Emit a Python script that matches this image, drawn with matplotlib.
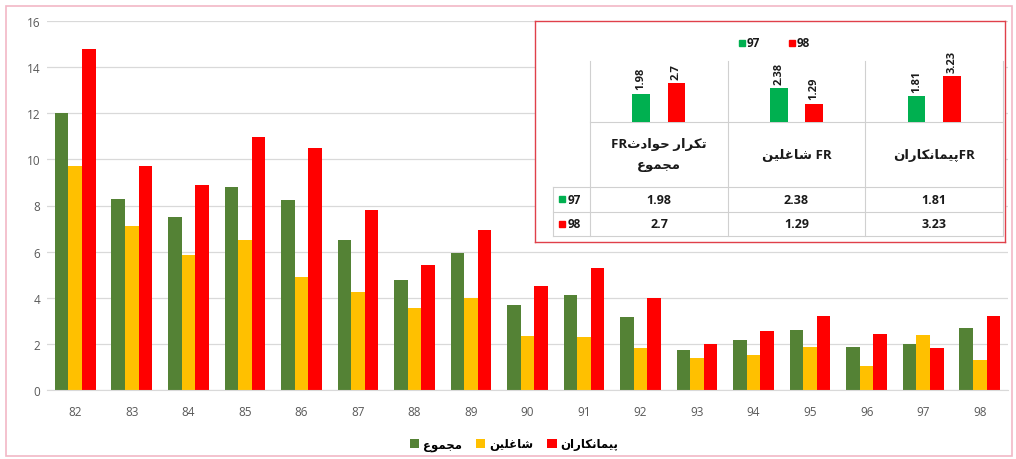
import numpy as np
import matplotlib
matplotlib.use('Agg')
import matplotlib.pyplot as plt
from matplotlib.patches import Rectangle

plt.rcParams['font.family'] = ['Open Sans', 'DejaVu Sans']

# data
years = ['82', '83', '84', '85', '86', '87', '88', '89', '90',
         '91', '92', '93', '94', '95', '96', '97', '98']
total = [12.0, 8.3, 7.5, 8.8, 8.25, 6.5, 4.75, 5.95, 3.7,
         4.1, 3.15, 1.72, 2.18, 2.61, 1.85, 1.98, 2.7]
staff = [9.7, 7.1, 5.85, 6.5, 4.9, 4.25, 3.55, 4.0, 2.32,
         2.3, 1.82, 1.39, 1.53, 1.86, 1.05, 2.38, 1.29]
contractors = [14.8, 9.7, 8.9, 10.95, 10.5, 7.8, 5.4, 6.95, 4.52,
               5.29, 3.99, 2.0, 2.56, 3.22, 2.41, 1.81, 3.23]
series_names = ['مجموع', 'شاغلین', 'پیمانکاران']

# inset: FR of years 97 and 98
ins_years = ['97', '98']
ins_groups = ['FR|تکرار حوادث|مجموع', 'شاغلین|FR', 'پیمانکاران|FR']
ins_97 = [1.98, 2.38, 1.81]
ins_98 = [2.7, 1.29, 3.23]

GREEN = '#548235'
YELLOW = '#FFC000'
RED = '#FF0000'
IN_GREEN = '#00B050'
GRID = '#D9D9D9'
TXT = '#595959'

# simple persian shaping (presentation forms, visual order)
FORMS = {
    'ا': ('\uFE8D', '\uFE8E', None, None),
    'ت': ('\uFE95', '\uFE96', '\uFE97', '\uFE98'),
    'ث': ('\uFE99', '\uFE9A', '\uFE9B', '\uFE9C'),
    'ج': ('\uFE9D', '\uFE9E', '\uFE9F', '\uFEA0'),
    'ح': ('\uFEA1', '\uFEA2', '\uFEA3', '\uFEA4'),
    'د': ('\uFEA9', '\uFEAA', None, None),
    'ر': ('\uFEAD', '\uFEAE', None, None),
    'ش': ('\uFEB5', '\uFEB6', '\uFEB7', '\uFEB8'),
    'ع': ('\uFEC9', '\uFECA', '\uFECB', '\uFECC'),
    'غ': ('\uFECD', '\uFECE', '\uFECF', '\uFED0'),
    'ل': ('\uFEDD', '\uFEDE', '\uFEDF', '\uFEE0'),
    'م': ('\uFEE1', '\uFEE2', '\uFEE3', '\uFEE4'),
    'ن': ('\uFEE5', '\uFEE6', '\uFEE7', '\uFEE8'),
    'و': ('\uFEED', '\uFEEE', None, None),
    'پ': ('\uFB56', '\uFB57', '\uFB58', '\uFB59'),
    'ک': ('\uFB8E', '\uFB8F', '\uFB90', '\uFB91'),
    'ی': ('\uFBFC', '\uFBFD', '\uFBFE', '\uFBFF'),
}


def fa(text):
    out = []
    n = len(text)
    for i, ch in enumerate(text):
        if ch not in FORMS:
            out.append(ch)
            continue
        prev = i > 0 and text[i - 1] in FORMS and FORMS[text[i - 1]][2] is not None
        nxt = i < n - 1 and text[i + 1] in FORMS and FORMS[ch][2] is not None
        iso, fin, ini, med = FORMS[ch]
        if prev and nxt:
            out.append(med)
        elif prev:
            out.append(fin)
        elif nxt:
            out.append(ini)
        else:
            out.append(iso)
    return ''.join(reversed(out))


def mixed(label):
    # pieces are given in visual order, '|' separated; persian parts get shaped
    parts = label.split('|')
    if parts[0] == 'FR':
        return ['FR' + fa(parts[1])] + [fa(p) for p in parts[2:]]
    return [fa(parts[0]) + (' ' if 'ش' in parts[0] else '') + parts[1]]


W, H = 1016, 460
fig = plt.figure(figsize=(W / 100, H / 100), dpi=100)


def box(x0, y0, x1, y1):
    # pixel box (from top-left) -> figure fraction rect
    return [x0 / W, 1 - y1 / H, (x1 - x0) / W, (y1 - y0) / H]


# outer pink frame
fig.add_artist(Rectangle((6 / W, 1 - 457 / H), 1006 / W, 450 / H, transform=fig.transFigure,
                         fill=False, edgecolor='#F2B8C6', lw=1.2))

ax = fig.add_axes(box(47, 22, 1008, 391))
x = np.arange(len(years))
bw = 0.24
ax.bar(x - bw, total, bw, color=GREEN, label=fa(series_names[0]), zorder=2)
ax.bar(x, staff, bw, color=YELLOW, label=fa(series_names[1]), zorder=2)
ax.bar(x + bw, contractors, bw, color=RED, label=fa(series_names[2]), zorder=2)
ax.set_xlim(-0.5, len(years) - 0.5)
ax.set_ylim(0, 16)
ax.set_yticks(range(0, 17, 2))
ax.set_xticks(x)
ax.set_xticklabels(years)
ax.tick_params(length=0, colors=TXT, labelsize=8.5)
ax.tick_params(axis='x', pad=11)
ax.tick_params(axis='y', pad=5)
ax.grid(axis='y', color=GRID, lw=0.9, zorder=0)
for s in ['top', 'right', 'left']:
    ax.spines[s].set_visible(False)
ax.spines['bottom'].set_color(GRID)

leg = ax.legend(loc='center', bbox_to_anchor=(514 / W, 1 - 445 / H), bbox_transform=fig.transFigure,
                ncol=3, frameon=False, handlelength=0.8, handleheight=0.8, handletextpad=0.3,
                columnspacing=1.2, prop={'size': 8.5, 'weight': 'bold'})

# inset panel in pixel coords
axb = fig.add_axes(box(535, 22, 1005, 243))
axb.set_zorder(5)
axb.set_xlim(535, 1005)
axb.set_ylim(243, 22)
axb.set_xticks([])
axb.set_yticks([])
for s in axb.spines.values():
    s.set_color('#E0404A')
    s.set_linewidth(1.0)

cols = [590, 728, 865, 1003]
rows = [123, 188, 213, 237]
lc = '#D0D0D0'
for cx in cols:
    axb.plot([cx, cx], [62, 237], color=lc, lw=0.8)
axb.plot([553, 553], [188, 237], color=lc, lw=0.8)
axb.plot([590, 1003], [123, 123], color=lc, lw=0.8)
for ry in rows[1:]:
    axb.plot([553, 1003], [ry, ry], color=lc, lw=0.8)

centers = [(cols[i] + cols[i + 1]) / 2 for i in range(3)]
for i, lab in enumerate(ins_groups):
    lines = mixed(lab)
    axb.text(centers[i], 155.5, '\n'.join(lines), ha='center', va='center', fontsize=9.5,
             fontweight='bold', linespacing=1.8, color='#1a1a1a')
    axb.text(centers[i], 200.5, f'{ins_97[i]}', ha='center', va='center', fontsize=9,
             fontweight='bold', color='#1a1a1a')
    axb.text(centers[i], 225, f'{ins_98[i]}', ha='center', va='center', fontsize=9,
             fontweight='bold', color='#1a1a1a')
for ry, yr, c in [(200.5, ins_years[0], IN_GREEN), (225, ins_years[1], RED)]:
    axb.add_patch(Rectangle((559, ry - 3), 6, 6, color=c))
    axb.text(568, ry, yr, ha='left', va='center', fontsize=8.5, fontweight='bold', color='#1a1a1a')

# inset legend
for lx, yr, c in [(739, ins_years[0], IN_GREEN), (789, ins_years[1], RED)]:
    axb.add_patch(Rectangle((lx, 41), 6, 6, color=c))
    axb.text(lx + 8, 44, yr, ha='left', va='center', fontsize=8.5, fontweight='bold', color='#1a1a1a')

# inset bars
axi = fig.add_axes(box(590, 40, 1003, 123))
axi.set_zorder(6)
axi.patch.set_alpha(0)
gx = np.arange(len(ins_groups))
ib = 0.13
b1 = axi.bar(gx - 0.128, ins_97, ib, color=IN_GREEN)
b2 = axi.bar(gx + 0.128, ins_98, ib, color=RED)
axi.set_xlim(-0.5, 2.5)
axi.set_ylim(0, 5.8)
axi.axis('off')
for bars in (b1, b2):
    axi.bar_label(bars, labels=[f'{v}' for v in bars.datavalues], rotation=90, padding=3,
                  fontsize=8, fontweight='bold', color='#1a1a1a')

fig.savefig('out.png', dpi=100)
